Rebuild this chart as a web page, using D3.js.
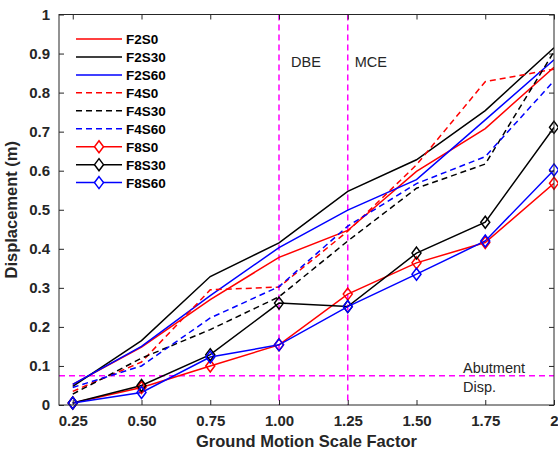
<!DOCTYPE html>
<html>
<head>
<meta charset="utf-8">
<script src="https://cdn.jsdelivr.net/npm/d3@7"></script>
<style>
body { margin: 0; background: #fff; }
text { font-family: "Liberation Sans", Arial, sans-serif; }
</style>
</head>
<body>
<div id="chart"></div>
<script>
// scale factors (x values shared by every series)
var scaleFactor = [0.25, 0.5, 0.75, 1.0, 1.25, 1.5, 1.75, 2.0];

// displacement (m)
var F2S0  = [0.053, 0.148, 0.270, 0.378, 0.447, 0.598, 0.708, 0.865];
var F2S30 = [0.048, 0.165, 0.329, 0.415, 0.547, 0.628, 0.754, 0.915];
var F2S60 = [0.053, 0.150, 0.280, 0.403, 0.499, 0.577, 0.730, 0.884];
var F4S0  = [0.035, 0.110, 0.295, 0.302, 0.445, 0.615, 0.828, 0.860];
var F4S30 = [0.028, 0.120, 0.193, 0.277, 0.420, 0.555, 0.617, 0.905];
var F4S60 = [0.045, 0.100, 0.223, 0.303, 0.458, 0.567, 0.636, 0.830];
var F8S0  = [0.005, 0.045, 0.100, 0.154, 0.284, 0.364, 0.416, 0.568];
var F8S30 = [0.005, 0.050, 0.129, 0.261, 0.252, 0.389, 0.468, 0.711];
var F8S60 = [0.005, 0.032, 0.123, 0.154, 0.252, 0.335, 0.420, 0.602];

var seriesNames = ["F2S0", "F2S30", "F2S60", "F4S0", "F4S30", "F4S60", "F8S0", "F8S30", "F8S60"];
var seriesValues = [F2S0, F2S30, F2S60, F4S0, F4S30, F4S60, F8S0, F8S30, F8S60];

var xTicks = [0.25, 0.5, 0.75, 1.0, 1.25, 1.5, 1.75, 2.0];
var xTickLabels = ["0.25", "0.50", "0.75", "1.00", "1.25", "1.50", "1.75", "2"];
var yTicks = [0, 0.1, 0.2, 0.3, 0.4, 0.5, 0.6, 0.7, 0.8, 0.9, 1];
var yTickLabels = ["0", "0.1", "0.2", "0.3", "0.4", "0.5", "0.6", "0.7", "0.8", "0.9", "1"];

var dbeLevel = 1.0, mceLevel = 1.25, abutmentDisp = 0.075;

var svgWidth = 558, svgHeight = 452;
var margin = {top: 14.5, right: 4, bottom: 47, left: 59};
var width = svgWidth - margin.left - margin.right;
var height = svgHeight - margin.top - margin.bottom;
var ink = "#262626";

var svg = d3.select("#chart").append("svg")
  .attr("width", svgWidth)
  .attr("height", svgHeight)
  .append("g")
  .attr("transform", "translate(" + margin.left + "," + margin.top + ")");

var x = d3.scaleLinear().domain([0.2, 2]).range([0, width]);
var y = d3.scaleLinear().domain([0, 1]).range([height, 0]);

// clip for data lines
svg.append("clipPath").attr("id", "clip")
  .append("rect").attr("width", width).attr("height", height);

// reference lines (magenta dashed)
var ref = svg.append("g").attr("stroke", "#ff00ff").attr("stroke-width", 1.5)
  .attr("stroke-dasharray", "6,4").attr("fill", "none");
[dbeLevel, mceLevel].forEach(function (v) {
  ref.append("line").attr("x1", x(v)).attr("x2", x(v)).attr("y1", 0).attr("y2", height);
});
ref.append("line").attr("x1", 0).attr("x2", width)
  .attr("y1", y(abutmentDisp)).attr("y2", y(abutmentDisp));

// series styles
var colors = ["#ff0000", "#000000", "#0000ff"];
function styleOf(i) {
  return {
    color: colors[i % 3],
    dashed: Math.floor(i / 3) === 1,
    marker: Math.floor(i / 3) === 2
  };
}

var line = d3.line()
  .x(function (d, i) { return x(scaleFactor[i]); })
  .y(function (d) { return y(d); });

var diamond = "M0,-6L4.5,0L0,6L-4.5,0Z";

var plot = svg.append("g").attr("clip-path", "url(#clip)");
seriesValues.forEach(function (vals, i) {
  var s = styleOf(i);
  plot.append("path")
    .datum(vals)
    .attr("d", line)
    .attr("fill", "none")
    .attr("stroke", s.color)
    .attr("stroke-width", 1.5)
    .attr("stroke-dasharray", s.dashed ? "6,4" : null);
});
seriesValues.forEach(function (vals, i) {
  var s = styleOf(i);
  if (!s.marker) return;
  svg.append("g").selectAll("path")
    .data(vals)
    .enter()
    .append("path")
    .attr("d", diamond)
    .attr("transform", function (d, j) { return "translate(" + x(scaleFactor[j]) + "," + y(d) + ")"; })
    .attr("fill", "none")
    .attr("stroke", s.color)
    .attr("stroke-width", 1.5);
});

// axes (box with inward ticks)
function styleAxis(g) {
  g.select(".domain").remove();
  g.selectAll(".tick line").attr("stroke", ink);
  g.selectAll(".tick text").attr("fill", ink)
    .style("font-size", "15px").style("font-weight", "bold");
}
svg.append("g")
  .attr("transform", "translate(0," + height + ")")
  .call(d3.axisBottom(x).tickValues(xTicks).tickSize(-5).tickPadding(10)
    .tickFormat(function (d, i) { return xTickLabels[i]; }))
  .call(styleAxis);
svg.append("g")
  .call(d3.axisTop(x).tickValues(xTicks).tickSize(-5).tickFormat(""))
  .call(styleAxis);
svg.append("g")
  .call(d3.axisLeft(y).tickValues(yTicks).tickSize(-5).tickPadding(9)
    .tickFormat(function (d, i) { return yTickLabels[i]; }))
  .call(styleAxis);
svg.append("g")
  .attr("transform", "translate(" + width + ",0)")
  .call(d3.axisRight(y).tickValues(yTicks).tickSize(-5).tickFormat(""))
  .call(styleAxis);
svg.append("rect")
  .attr("width", width).attr("height", height)
  .attr("fill", "none").attr("stroke", ink).attr("stroke-width", 1);

// axis titles
svg.append("text")
  .attr("x", width / 2).attr("y", height + 42)
  .attr("text-anchor", "middle").attr("fill", ink)
  .style("font-size", "16.5px").style("font-weight", "bold")
  .text("Ground Motion Scale Factor");
svg.append("text")
  .attr("transform", "translate(" + (-42) + "," + (height / 2) + ") rotate(-90)")
  .attr("text-anchor", "middle").attr("fill", ink)
  .style("font-size", "16.5px").style("font-weight", "bold")
  .text("Displacement (m)");

// annotations
svg.append("text").attr("x", x(dbeLevel) + 12).attr("y", 52.5)
  .attr("fill", ink).style("font-size", "14.5px").text("DBE");
svg.append("text").attr("x", x(mceLevel) + 7).attr("y", 52.5)
  .attr("fill", ink).style("font-size", "14.5px").text("MCE");
svg.append("text").attr("x", 404).attr("y", 358.5)
  .attr("fill", ink).style("font-size", "14.5px").text("Abutment");
svg.append("text").attr("x", 404).attr("y", 377)
  .attr("fill", ink).style("font-size", "14.5px").text("Disp.");

// legend
var legend = svg.append("g").attr("transform", "translate(17,24.5)");
seriesNames.forEach(function (name, i) {
  var s = styleOf(i);
  var row = legend.append("g").attr("transform", "translate(0," + (i * 17.95) + ")");
  row.append("line").attr("x1", 0).attr("x2", 46).attr("y1", 0).attr("y2", 0)
    .attr("stroke", s.color).attr("stroke-width", 1.5)
    .attr("stroke-dasharray", s.dashed ? "6,4" : null);
  if (s.marker) {
    row.append("path").attr("d", diamond).attr("transform", "translate(23,0)")
      .attr("fill", "#fff").attr("stroke", s.color).attr("stroke-width", 1.5);
  }
  row.append("text").attr("x", 50).attr("y", 5)
    .attr("fill", "#000").style("font-size", "13.5px").style("font-weight", "bold")
    .text(name);
});
</script>
</body>
</html>
